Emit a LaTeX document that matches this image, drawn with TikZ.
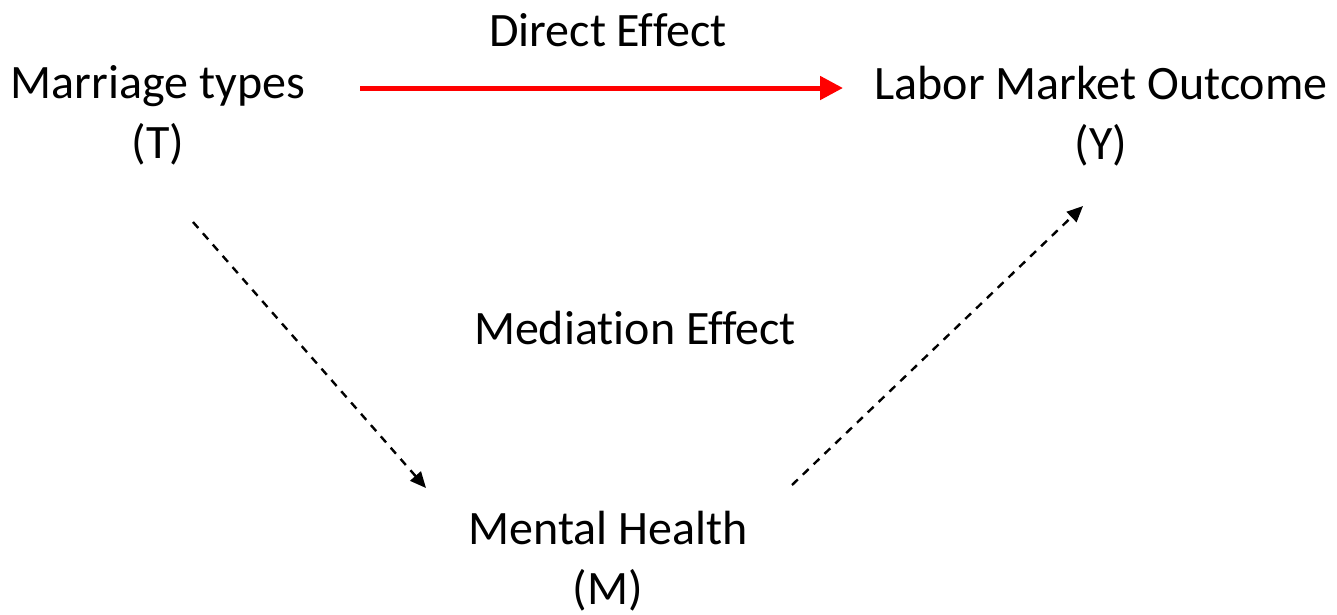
\documentclass[tikz,border=0pt]{standalone}
\usepackage{fontspec}
\setmainfont[Ligatures={NoCommon,NoContextual},RawFeature={-liga;-clig}]{Carlito}
\usetikzlibrary{arrows.meta}
\begin{document}
\begin{tikzpicture}[x=1pt,y=-1pt,
  lbl/.style={font=\fontsize{48}{60}\selectfont, align=center, inner sep=0pt},
  direct/.style={draw=red, line width=5pt, -{Triangle[length=23pt,width=23pt]}},
  mediate/.style={draw=black, line width=2.4pt, dash pattern=on 8pt off 7pt, -{Triangle[length=16pt,width=14pt]}}]
\useasboundingbox (0,0) rectangle (1337,614);
\node[lbl] (T) at (158,115) {Marriage types\\(T)};
\node[lbl] (Y) at (1101,116) {Labor Market Outcome\\(Y)};
\node[lbl] (M) at (608,561) {Mental Health\\(M)};
\node[lbl] (de) at (608,30) {Direct Effect};
\node[lbl] (me) at (635,328) {Mediation Effect};
\coordinate (t1) at (360,88);
\coordinate (y1) at (843,88);
\coordinate (t2) at (193,222);
\coordinate (m1) at (426,488);
\coordinate (m2) at (792,485);
\coordinate (y2) at (1083,206);
\draw[direct] (t1) -- (y1);
\draw[mediate] (t2) -- (m1);
\draw[mediate] (m2) -- (y2);
\end{tikzpicture}
\end{document}
